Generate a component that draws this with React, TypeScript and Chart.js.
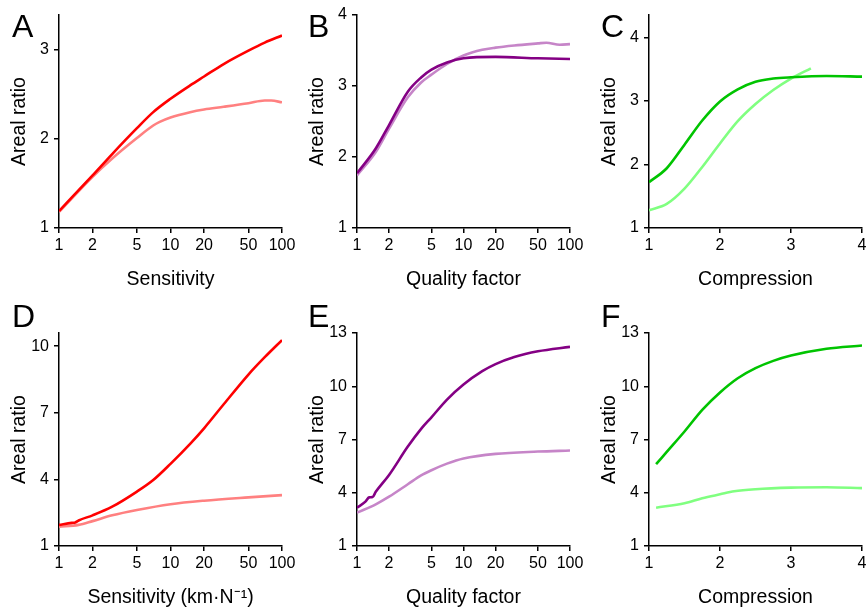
import React, { useEffect, useRef } from "react";
import { Chart, registerables } from "chart.js";

Chart.register(...registerables);

const FONT = "'Liberation Sans', Arial, Helvetica, sans-serif";

// ---- tick values ----
const LOG_X_TICKS = [1, 2, 5, 10, 20, 50, 100];
const LIN_X_TICKS = [1, 2, 3, 4];
const Y_TICKS_A = [1, 2, 3];
const Y_TICKS_BC = [1, 2, 3, 4];
const Y_TICKS_D = [1, 4, 7, 10];
const Y_TICKS_EF = [1, 4, 7, 10, 13];

// ---- Panel A (Sensitivity) ----
const A_DARK_X = [1, 2, 3, 5, 7, 10, 15, 20, 30, 50, 70, 100];
const A_DARK_Y = [1.19, 1.59, 1.83, 2.12, 2.3, 2.45, 2.6, 2.7, 2.84, 2.99, 3.08, 3.16];
const A_LIGHT_X = [1, 2, 3, 5, 7, 8, 10, 15, 20, 30, 50, 70, 80, 100];
const A_LIGHT_Y = [1.18, 1.575, 1.78, 2.01, 2.15, 2.19, 2.24, 2.3, 2.33, 2.36, 2.4, 2.43, 2.43, 2.41];

// ---- Panel B (Quality factor) ----
const B_DARK_X = [1, 1.5, 2, 3, 4, 5, 7, 10, 20, 50, 100];
const B_DARK_Y = [1.77, 2.12, 2.45, 2.92, 3.12, 3.23, 3.33, 3.39, 3.41, 3.39, 3.38];
const B_LIGHT_X = [1, 1.5, 2, 3, 4, 5, 7, 10, 15, 20, 30, 50, 60, 80, 100];
const B_LIGHT_Y = [1.74, 2.07, 2.4, 2.84, 3.05, 3.16, 3.31, 3.43, 3.51, 3.54, 3.57, 3.6, 3.61, 3.58, 3.59];

// ---- Panel C (Compression) ----
const C_DARK_X = [1, 1.25, 1.5, 1.75, 2, 2.25, 2.5, 2.75, 3, 3.5, 4];
const C_DARK_Y = [1.72, 1.94, 2.31, 2.69, 2.99, 3.18, 3.3, 3.35, 3.37, 3.39, 3.38];
const C_LIGHT_X = [1, 1.25, 1.5, 1.75, 2, 2.25, 2.5, 2.75, 3, 3.28];
const C_LIGHT_Y = [1.28, 1.38, 1.62, 1.96, 2.33, 2.68, 2.95, 3.17, 3.35, 3.51];

// ---- Panel D (Sensitivity, km·N^-1) ----
const D_DARK_X = [1, 1.3, 1.4, 1.5, 2, 3, 5, 7, 10, 15, 20, 30, 50, 70, 100];
const D_DARK_Y = [1.95, 2.04, 2.06, 2.15, 2.38, 2.77, 3.45, 3.97, 4.7, 5.6, 6.3, 7.38, 8.72, 9.5, 10.27];
const D_LIGHT_X = [1, 1.5, 2, 3, 5, 10, 20, 50, 100];
const D_LIGHT_Y = [1.87, 1.95, 2.12, 2.38, 2.62, 2.88, 3.04, 3.19, 3.29];

// ---- Panel E (Quality factor) ----
const E_DARK_X = [1, 1.2, 1.3, 1.4, 1.5, 2, 3, 4, 5, 7, 10, 15, 20, 30, 50, 100];
const E_DARK_Y = [3.16, 3.5, 3.74, 3.76, 4.05, 5.0, 6.6, 7.6, 8.25, 9.25, 10.1, 10.85, 11.25, 11.65, 11.97, 12.22];
const E_LIGHT_X = [1, 1.5, 2, 3, 4, 5, 7, 10, 20, 50, 100];
const E_LIGHT_Y = [2.88, 3.35, 3.78, 4.48, 4.98, 5.27, 5.64, 5.93, 6.19, 6.32, 6.38];

// ---- Panel F (Compression) ----
const F_DARK_X = [1.1, 1.25, 1.5, 1.75, 2, 2.25, 2.5, 2.75, 3, 3.5, 4];
const F_DARK_Y = [5.61, 6.3, 7.45, 8.67, 9.65, 10.45, 11.02, 11.43, 11.73, 12.11, 12.3];
const F_LIGHT_X = [1.1, 1.5, 1.75, 2, 2.2, 2.5, 3, 3.5, 4];
const F_LIGHT_Y = [3.16, 3.41, 3.69, 3.91, 4.08, 4.2, 4.29, 4.31, 4.26];

const RED = "#ff0000";
const RED_LIGHT = "#ff8080";
const PURPLE = "#840084";
const PURPLE_LIGHT = "#c685c8";
const GREEN = "#00c400";
const GREEN_LIGHT = "#80ff80";

type Series = { xs: number[]; ys: number[]; color: string };
type PanelDef = {
  letter: string;
  letterPos: [number, number];
  area: { L: number; T: number; R: number; B: number };
  log: boolean;
  xTicks: number[];
  yTicks: number[];
  yMax: number;
  xTitle: string;
  series: Series[];
};

const PANELS: PanelDef[] = [
  {
    letter: "A", letterPos: [12, 10], area: { L: 59, T: 15, R: 282, B: 228 }, log: true,
    xTicks: LOG_X_TICKS, yTicks: Y_TICKS_A, yMax: 3.39, xTitle: "Sensitivity",
    series: [
      { xs: A_DARK_X, ys: A_DARK_Y, color: RED },
      { xs: A_LIGHT_X, ys: A_LIGHT_Y, color: RED_LIGHT },
    ],
  },
  {
    letter: "B", letterPos: [308, 10], area: { L: 357, T: 15, R: 570, B: 228 }, log: true,
    xTicks: LOG_X_TICKS, yTicks: Y_TICKS_BC, yMax: 4, xTitle: "Quality factor",
    series: [
      { xs: B_DARK_X, ys: B_DARK_Y, color: PURPLE },
      { xs: B_LIGHT_X, ys: B_LIGHT_Y, color: PURPLE_LIGHT },
    ],
  },
  {
    letter: "C", letterPos: [601, 10], area: { L: 649, T: 15, R: 862, B: 228 }, log: false,
    xTicks: LIN_X_TICKS, yTicks: Y_TICKS_BC, yMax: 4.35, xTitle: "Compression",
    series: [
      { xs: C_DARK_X, ys: C_DARK_Y, color: GREEN },
      { xs: C_LIGHT_X, ys: C_LIGHT_Y, color: GREEN_LIGHT },
    ],
  },
  {
    letter: "D", letterPos: [12, 300], area: { L: 59, T: 333, R: 282, B: 546 }, log: true,
    xTicks: LOG_X_TICKS, yTicks: Y_TICKS_D, yMax: 10.59, xTitle: "Sensitivity (km·N⁻¹)",
    series: [
      { xs: D_DARK_X, ys: D_DARK_Y, color: RED },
      { xs: D_LIGHT_X, ys: D_LIGHT_Y, color: RED_LIGHT },
    ],
  },
  {
    letter: "E", letterPos: [308, 300], area: { L: 357, T: 333, R: 570, B: 546 }, log: true,
    xTicks: LOG_X_TICKS, yTicks: Y_TICKS_EF, yMax: 13, xTitle: "Quality factor",
    series: [
      { xs: E_DARK_X, ys: E_DARK_Y, color: PURPLE },
      { xs: E_LIGHT_X, ys: E_LIGHT_Y, color: PURPLE_LIGHT },
    ],
  },
  {
    letter: "F", letterPos: [601, 300], area: { L: 649, T: 333, R: 862, B: 546 }, log: false,
    xTicks: LIN_X_TICKS, yTicks: Y_TICKS_EF, yMax: 13, xTitle: "Compression",
    series: [
      { xs: F_DARK_X, ys: F_DARK_Y, color: GREEN },
      { xs: F_LIGHT_X, ys: F_LIGHT_Y, color: GREEN_LIGHT },
    ],
  },
];

const Y_AXIS_W = 51;
const X_AXIS_H = 63;
const PAD_TOP = 15;
const PAD_RIGHT = 20;

function Panel({ def }: { def: PanelDef }) {
  const ref = useRef<HTMLCanvasElement | null>(null);
  const { L, T, R, B } = def.area;
  const left = L - Y_AXIS_W;
  const top = T - PAD_TOP;
  const width = Y_AXIS_W + (R - L) + PAD_RIGHT;
  const height = PAD_TOP + (B - T) + X_AXIS_H;

  useEffect(() => {
    if (!ref.current) return;
    const tickFont = { family: FONT, size: 16 };
    const titleFont = { family: FONT, size: 19.5 };
    const axisCommon = {
      grid: { display: true, drawOnChartArea: false, drawTicks: true, tickLength: 5, color: "#000", lineWidth: 1.5 },
      border: { display: true, color: "#000", width: 1.5 },
    };
    const chart = new Chart(ref.current, {
      type: "line",
      data: {
        datasets: def.series.map((s) => ({
          data: s.xs.map((x, i) => ({ x, y: s.ys[i] })),
          borderColor: s.color,
          backgroundColor: s.color,
          borderWidth: 2.6,
          pointRadius: 0,
          fill: false,
          cubicInterpolationMode: "monotone" as const,
        })),
      },
      options: {
        responsive: false,
        animation: false,
        devicePixelRatio: 1,
        layout: { padding: { left: 0, top: PAD_TOP, right: PAD_RIGHT, bottom: 0 } },
        plugins: { legend: { display: false }, tooltip: { enabled: false } },
        events: [],
        scales: {
          x: {
            type: def.log ? "logarithmic" : "linear",
            min: def.xTicks[0],
            max: def.xTicks[def.xTicks.length - 1],
            ...axisCommon,
            ticks: {
              autoSkip: false,
              maxRotation: 0,
              padding: 3,
              color: "#000",
              font: tickFont,
              callback: (v: any) => String(v),
            },
            title: { display: true, text: def.xTitle, color: "#000", font: titleFont, padding: 0 },
            afterBuildTicks: (s: any) => {
              s.ticks = def.xTicks.map((v) => ({ value: v }));
            },
            afterFit: (s: any) => {
              s.height = X_AXIS_H;
            },
          } as any,
          y: {
            type: "linear",
            min: 1,
            max: def.yMax,
            ...axisCommon,
            ticks: {
              autoSkip: false,
              padding: 5,
              color: "#000",
              font: tickFont,
              callback: (v: any) => String(v),
            },
            title: { display: true, text: "Areal ratio", color: "#000", font: titleFont, padding: 0 },
            afterBuildTicks: (s: any) => {
              s.ticks = def.yTicks.map((v) => ({ value: v }));
            },
            afterFit: (s: any) => {
              s.width = Y_AXIS_W;
            },
          } as any,
        },
      },
    });
    return () => chart.destroy();
  }, [def]);

  return (
    <>
      <canvas
        ref={ref}
        width={width}
        height={height}
        style={{ position: "absolute", left, top, width, height }}
      />
      <div
        style={{
          position: "absolute",
          left: def.letterPos[0],
          top: def.letterPos[1],
          fontFamily: FONT,
          fontSize: 32,
          lineHeight: "32px",
          color: "#000",
        }}
      >
        {def.letter}
      </div>
    </>
  );
}

export default function App() {
  return (
    <div
      style={{
        position: "fixed",
        left: 0,
        top: 0,
        width: 866,
        height: 609,
        overflow: "hidden",
        background: "#fff",
      }}
    >
      {PANELS.map((p) => (
        <Panel key={p.letter} def={p} />
      ))}
    </div>
  );
}
